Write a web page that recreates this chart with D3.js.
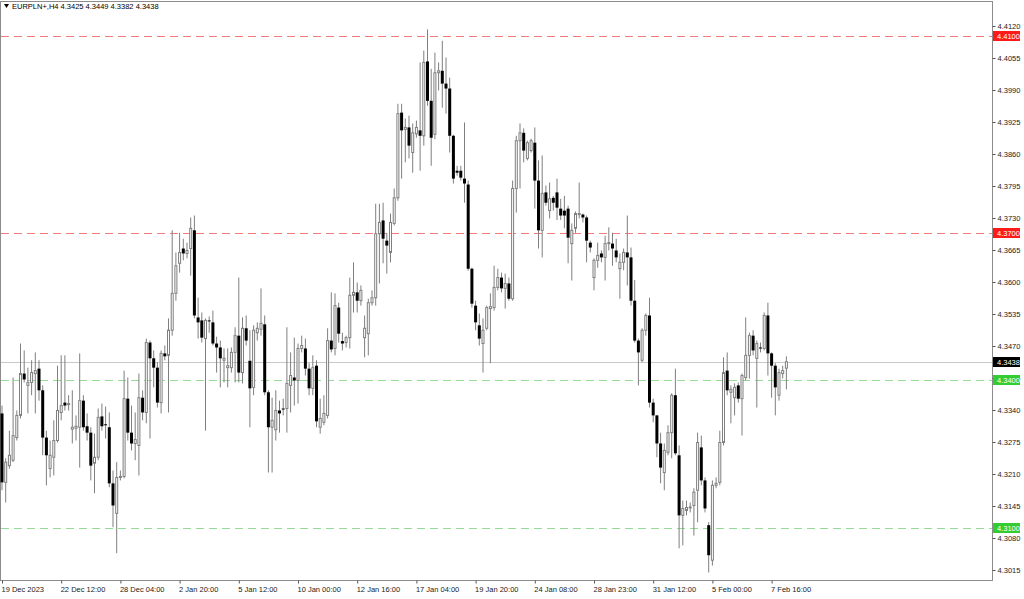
<!DOCTYPE html>
<html>
<head>
<meta charset="utf-8">
<script src="https://cdn.jsdelivr.net/npm/d3@7"></script>
<style>
  body { margin: 0; background: #fff; }
  text { font-family: "Liberation Sans", Arial, sans-serif; }
</style>
</head>
<body>
<div class="chart"></div>
<script>
// EURPLN+ H4 candles (bar 0 = leftmost bar)
var symbolTitle = "EURPLN+,H4  4.3425 4.3449 4.3382 4.3438";

var open = [
  4.3333,4.3193,4.3227,4.3238,4.3284,4.3329,4.3414,4.3390,4.3396,4.3414,
  4.3424,4.3380,4.3284,4.3221,4.3244,4.3278,4.3335,4.3355,4.3353,4.3301,
  4.3303,4.3305,4.3359,4.3307,4.3294,4.3232,4.3244,4.3327,4.3311,4.3305,
  4.3191,4.3130,4.3203,4.3205,4.3363,4.3294,4.3272,4.3268,4.3365,4.3335,
  4.3477,4.3445,4.3426,4.3355,4.3455,4.3451,4.3502,4.3577,4.3638,4.3668,
  4.3658,4.3668,4.3705,4.3528,4.3522,4.3485,4.3522,4.3518,4.3475,4.3467,
  4.3441,4.3426,4.3426,4.3457,4.3491,4.3416,4.3506,4.3440,4.3386,4.3497,
  4.3504,4.3514,4.3376,4.3305,4.3300,4.3339,4.3343,4.3343,4.3390,4.3406,
  4.3400,4.3465,4.3465,4.3424,4.3384,4.3430,4.3305,4.3315,4.3329,4.3481,
  4.3465,4.3548,4.3480,4.3477,4.3487,4.3573,4.3579,4.3562,4.3487,4.3495,
  4.3558,4.3568,4.3698,4.3725,4.3684,4.3660,4.3719,4.3771,4.3944,4.3910,
  4.3914,4.3863,4.3901,4.3908,4.3897,4.4048,4.3968,4.3900,4.4025,4.4029,
  4.4003,4.3993,4.3897,4.3826,4.3826,4.3810,4.3798,4.3627,4.3552,4.3512,
  4.3475,4.3506,4.3546,4.3548,4.3589,4.3609,4.3587,4.3597,4.3566,4.3790,
  4.3887,4.3903,4.3851,4.3867,4.3883,4.3806,4.3705,4.3782,4.3745,4.3771,
  4.3782,4.3749,4.3745,4.3749,4.3678,4.3709,4.3737,4.3737,4.3731,4.3680,
  4.3609,4.3644,4.3658,4.3650,4.3678,4.3678,4.3664,4.3627,4.3640,4.3660,
  4.3650,4.3562,4.3481,4.3441,4.3502,4.3532,4.3355,4.3329,4.3272,4.3213,
  4.3254,4.3294,4.3370,4.3248,4.3126,4.3136,4.3142,4.3146,4.3177,4.3264,
  4.3197,4.3106,4.3035,4.3187,4.3193,4.3274,4.3420,4.3376,4.3365,4.3390,
  4.3363,4.3406,4.3451,4.3491,4.3445,4.3467,4.3465,4.3532,4.3455,4.3430,
  4.3370,4.3414,4.3425
];

var high = [
  4.3349,4.3242,4.3298,4.3406,4.3339,4.3475,4.3461,4.3426,4.3441,4.3457,
  4.3441,4.3390,4.3298,4.3278,4.3319,4.3430,4.3451,4.3451,4.3370,4.3380,
  4.3329,4.3455,4.3370,4.3333,4.3305,4.3292,4.3343,4.3353,4.3347,4.3335,
  4.3217,4.3234,4.3217,4.3420,4.3406,4.3349,4.3335,4.3414,4.3380,4.3485,
  4.3481,4.3461,4.3437,4.3461,4.3471,4.3526,4.3705,4.3660,4.3700,4.3688,
  4.3680,4.3731,4.3735,4.3568,4.3538,4.3526,4.3530,4.3542,4.3489,4.3481,
  4.3465,4.3465,4.3467,4.3508,4.3609,4.3528,4.3532,4.3502,4.3512,4.3518,
  4.3587,4.3532,4.3380,4.3365,4.3380,4.3359,4.3363,4.3508,4.3457,4.3487,
  4.3475,4.3491,4.3485,4.3435,4.3451,4.3441,4.3363,4.3370,4.3506,4.3579,
  4.3577,4.3558,4.3497,4.3491,4.3609,4.3640,4.3599,4.3593,4.3532,4.3566,
  4.3583,4.3759,4.3759,4.3761,4.3700,4.3739,4.3790,4.3962,4.3962,4.3932,
  4.3938,4.3922,4.3928,4.4046,4.4070,4.4113,4.4033,4.4066,4.4046,4.4090,
  4.4056,4.4015,4.3899,4.3836,4.3836,4.3924,4.3806,4.3629,4.3562,4.3536,
  4.3526,4.3552,4.3577,4.3633,4.3627,4.3619,4.3617,4.3609,4.3806,4.3897,
  4.3922,4.3912,4.3887,4.3891,4.3914,4.3847,4.3857,4.3796,4.3802,4.3775,
  4.3810,4.3769,4.3775,4.3755,4.3719,4.3743,4.3802,4.3739,4.3735,4.3684,
  4.3648,4.3680,4.3664,4.3694,4.3711,4.3700,4.3688,4.3658,4.3668,4.3735,
  4.3670,4.3604,4.3485,4.3506,4.3536,4.3568,4.3363,4.3330,4.3294,4.3272,
  4.3309,4.3374,4.3424,4.3268,4.3156,4.3156,4.3152,4.3181,4.3294,4.3288,
  4.3203,4.3112,4.3197,4.3203,4.3298,4.3447,4.3457,4.3390,4.3394,4.3396,
  4.3414,4.3528,4.3497,4.3502,4.3481,4.3477,4.3538,4.3558,4.3457,4.3435,
  4.3424,4.3430,4.3449
];

var low = [
  4.3177,4.3152,4.3221,4.3234,4.3278,4.3323,4.3396,4.3333,4.3370,4.3333,
  4.3359,4.3248,4.3187,4.3203,4.3207,4.3274,4.3319,4.3339,4.3339,4.3272,
  4.3278,4.3223,4.3298,4.3278,4.3197,4.3171,4.3238,4.3298,4.3282,4.3183,
  4.3102,4.3049,4.3197,4.3201,4.3278,4.3258,4.3238,4.3207,4.3319,4.3313,
  4.3282,4.3386,4.3345,4.3333,4.3441,4.3335,4.3491,4.3562,4.3619,4.3644,
  4.3648,4.3613,4.3526,4.3485,4.3477,4.3298,4.3497,4.3471,4.3416,4.3386,
  4.3396,4.3386,4.3416,4.3396,4.3396,4.3394,4.3471,4.3305,4.3370,4.3481,
  4.3491,4.3370,4.3213,4.3213,4.3278,4.3294,4.3329,4.3294,4.3335,4.3349,
  4.3353,4.3457,4.3410,4.3370,4.3370,4.3305,4.3292,4.3309,4.3323,4.3457,
  4.3451,4.3477,4.3461,4.3467,4.3465,4.3538,4.3538,4.3552,4.3447,4.3451,
  4.3552,4.3552,4.3597,4.3638,4.3617,4.3640,4.3715,4.3765,4.3810,4.3843,
  4.3851,4.3822,4.3893,4.3826,4.3877,4.3958,4.3836,4.3890,4.3989,4.3954,
  4.3942,4.3863,4.3800,4.3816,4.3806,4.3761,4.3623,4.3548,4.3502,4.3471,
  4.3416,4.3502,4.3435,4.3542,4.3583,4.3579,4.3546,4.3562,4.3562,4.3741,
  4.3790,4.3843,4.3847,4.3863,4.3749,4.3668,4.3650,4.3755,4.3729,4.3745,
  4.3726,4.3726,4.3709,4.3638,4.3603,4.3700,4.3729,4.3721,4.3640,4.3660,
  4.3583,4.3629,4.3640,4.3603,4.3664,4.3633,4.3640,4.3566,4.3624,4.3593,
  4.3552,4.3477,4.3390,4.3437,4.3491,4.3345,4.3315,4.3244,4.3191,4.3177,
  4.3248,4.3242,4.3248,4.3059,4.3065,4.3126,4.3132,4.3085,4.3112,4.3187,
  4.3132,4.3010,4.3024,4.3181,4.3187,4.3268,4.3370,4.3313,4.3329,4.3355,
  4.3288,4.3400,4.3404,4.3451,4.3345,4.3457,4.3461,4.3410,4.3365,4.3329,
  4.3359,4.3404,4.3382
];

var close = [
  4.3193,4.3234,4.3248,4.3288,4.3329,4.3414,4.3402,4.3396,4.3416,4.3420,
  4.3380,4.3284,4.3248,4.3248,4.3278,4.3339,4.3349,4.3349,4.3353,4.3305,
  4.3307,4.3359,4.3305,4.3294,4.3227,4.3244,4.3325,4.3307,4.3309,4.3191,
  4.3146,4.3203,4.3205,4.3363,4.3294,4.3272,4.3280,4.3365,4.3335,4.3477,
  4.3445,4.3426,4.3355,4.3455,4.3449,4.3502,4.3577,4.3633,4.3660,4.3658,
  4.3664,4.3709,4.3532,4.3518,4.3487,4.3522,4.3521,4.3475,4.3467,4.3445,
  4.3445,4.3430,4.3457,4.3491,4.3416,4.3506,4.3481,4.3384,4.3502,4.3506,
  4.3516,4.3376,4.3305,4.3319,4.3339,4.3333,4.3341,4.3394,4.3410,4.3400,
  4.3465,4.3471,4.3424,4.3384,4.3426,4.3317,4.3323,4.3333,4.3481,4.3463,
  4.3552,4.3495,4.3475,4.3487,4.3573,4.3579,4.3562,4.3583,4.3506,4.3558,
  4.3568,4.3698,4.3721,4.3688,4.3674,4.3721,4.3771,4.3942,4.3908,4.3914,
  4.3877,4.3903,4.3914,4.3897,4.4046,4.3968,4.3893,4.4025,4.4029,4.4003,
  4.3993,4.3897,4.3810,4.3822,4.3812,4.3800,4.3627,4.3556,4.3518,4.3485,
  4.3502,4.3548,4.3550,4.3589,4.3609,4.3587,4.3597,4.3566,4.3790,4.3887,
  4.3903,4.3867,4.3883,4.3887,4.3806,4.3705,4.3780,4.3761,4.3769,4.3761,
  4.3751,4.3735,4.3735,4.3690,4.3705,4.3739,4.3739,4.3731,4.3684,4.3670,
  4.3644,4.3654,4.3650,4.3678,4.3680,4.3668,4.3650,4.3640,4.3660,4.3650,
  4.3562,4.3481,4.3457,4.3502,4.3532,4.3355,4.3329,4.3272,4.3223,4.3258,
  4.3294,4.3370,4.3252,4.3126,4.3140,4.3142,4.3143,4.3173,4.3274,4.3197,
  4.3140,4.3045,4.3187,4.3191,4.3274,4.3416,4.3380,4.3382,4.3386,4.3363,
  4.3410,4.3451,4.3491,4.3461,4.3475,4.3465,4.3532,4.3455,4.3430,4.3386,
  4.3416,4.3420,4.3438
];

// price axis labels on the right
var priceTicks = [4.4120, 4.4055, 4.3990, 4.3925, 4.3860, 4.3795, 4.3730, 4.3665, 4.3600,
  4.3535, 4.3470, 4.3405, 4.3340, 4.3275, 4.3210, 4.3145, 4.3080, 4.3015];

// time axis: a label every 16 bars
var dateTickBars = [0, 16, 32, 48, 64, 80, 96, 112, 128, 144, 160, 176, 192, 208];
var dateLabels = ["19 Dec 2023", "22 Dec 12:00", "28 Dec 04:00", "2 Jan 20:00", "5 Jan 12:00",
  "10 Jan 00:00", "12 Jan 16:00", "17 Jan 04:00", "19 Jan 20:00", "24 Jan 08:00",
  "28 Jan 23:00", "31 Jan 12:00", "5 Feb 00:00", "7 Feb 16:00"];

// horizontal levels drawn on the chart
var resistanceLevels = [4.4100, 4.3700];
var supportLevels = [4.3400, 4.3100];
var lastPrice = 4.3438;

var svgWidth = 1024;
var svgHeight = 599;
var plotRight = 992;
var plotBottom = 580;

var svg = d3.select(".chart")
  .append("svg")
  .attr("width", svgWidth)
  .attr("height", svgHeight);

var bars = open.map(function (o, i) {
  return { i: i, o: o, h: high[i], l: low[i], c: close[i] };
});

var xScale = d3.scaleLinear()
  .domain([0, bars.length - 1])
  .range([2, 2 + 3.7 * (bars.length - 1)]);

var yScale = d3.scaleLinear()
  .domain([4.3015, 4.4120])
  .range([570, 26]);

// frame
svg.append("rect")
  .attr("x", 0.5)
  .attr("y", 1.5)
  .attr("width", plotRight)
  .attr("height", plotBottom - 1)
  .attr("fill", "none")
  .attr("stroke", "#8c8c8c");

// level lines
svg.selectAll(".res-line")
  .data(resistanceLevels)
  .enter()
  .append("line")
  .attr("x1", 1)
  .attr("x2", plotRight)
  .attr("y1", d => Math.round(yScale(d)) + 0.5)
  .attr("y2", d => Math.round(yScale(d)) + 0.5)
  .attr("stroke", "#f47b7b")
  .attr("stroke-dasharray", "8,5");

svg.selectAll(".sup-line")
  .data(supportLevels)
  .enter()
  .append("line")
  .attr("x1", 1)
  .attr("x2", plotRight)
  .attr("y1", d => Math.round(yScale(d)) + 0.5)
  .attr("y2", d => Math.round(yScale(d)) + 0.5)
  .attr("stroke", "#96dc96")
  .attr("stroke-dasharray", "8,5");

// last price line
svg.append("line")
  .attr("x1", 1)
  .attr("x2", plotRight)
  .attr("y1", Math.round(yScale(lastPrice)) + 0.5)
  .attr("y2", Math.round(yScale(lastPrice)) + 0.5)
  .attr("stroke", "#c8c8c8");

// candles
var candleGroup = svg.append("g");

candleGroup.selectAll(".wick")
  .data(bars)
  .enter()
  .append("line")
  .attr("x1", d => xScale(d.i))
  .attr("x2", d => xScale(d.i))
  .attr("y1", d => yScale(d.h))
  .attr("y2", d => yScale(d.l))
  .attr("stroke", "#7f7f7f")
  .attr("stroke-width", 1);

candleGroup.selectAll(".body")
  .data(bars)
  .enter()
  .append("rect")
  .attr("x", d => d.c >= d.o ? xScale(d.i) - 1 : xScale(d.i) - 1.5)
  .attr("width", d => d.c >= d.o ? 2 : 3)
  .attr("y", d => yScale(Math.max(d.o, d.c)))
  .attr("height", d => Math.max(1, Math.abs(yScale(d.o) - yScale(d.c))))
  .attr("fill", d => d.c >= d.o ? "#ffffff" : "#000000")
  .attr("stroke", d => d.c >= d.o ? "#7f7f7f" : "none")
  .attr("stroke-width", 1);

// right price axis
var rightAxis = d3.axisRight(yScale)
  .tickValues(priceTicks)
  .tickSize(3)
  .tickPadding(2)
  .tickFormat(d3.format(".4f"));

var yAxis = svg.append("g")
  .attr("transform", `translate(${plotRight + 0.5}, 0)`)
  .call(rightAxis);

yAxis.select(".domain").remove();
yAxis.selectAll("line").attr("stroke", "#555");
yAxis.selectAll("text")
  .attr("fill", "#222")
  .style("font-size", "7.5px");

// bottom time axis
var bottomAxis = d3.axisBottom(xScale)
  .tickValues(dateTickBars)
  .tickSize(3)
  .tickPadding(3)
  .tickFormat((d, i) => dateLabels[i]);

var xAxis = svg.append("g")
  .attr("transform", `translate(0, ${plotBottom + 0.5})`)
  .call(bottomAxis);

xAxis.select(".domain").remove();
xAxis.selectAll("line").attr("stroke", "#555");
xAxis.selectAll("text")
  .attr("text-anchor", "start")
  .attr("dx", "-1")
  .attr("fill", "#222")
  .style("font-size", "7.5px");

// price label boxes on the axis
function priceBox(price, color) {
  var yc = Math.round(yScale(price));
  svg.append("rect")
    .attr("x", plotRight + 1)
    .attr("y", yc - 5)
    .attr("width", 27)
    .attr("height", 10)
    .attr("fill", color);
  svg.append("text")
    .attr("x", plotRight + 5)
    .attr("y", yc + 3)
    .attr("fill", "#fff")
    .style("font-size", "7.5px")
    .text(d3.format(".4f")(price));
}

resistanceLevels.forEach(p => priceBox(p, "#ff1a1a"));
supportLevels.forEach(p => priceBox(p, "#33cc33"));
priceBox(lastPrice, "#000000");

// title in the top left corner
svg.append("path")
  .attr("d", "M4,4 L9,4 L6.5,8 Z")
  .attr("fill", "#000");

svg.append("text")
  .attr("x", 12)
  .attr("y", 9)
  .attr("fill", "#000")
  .style("font-size", "7.5px")
  .text(symbolTitle);
</script>
</body>
</html>
